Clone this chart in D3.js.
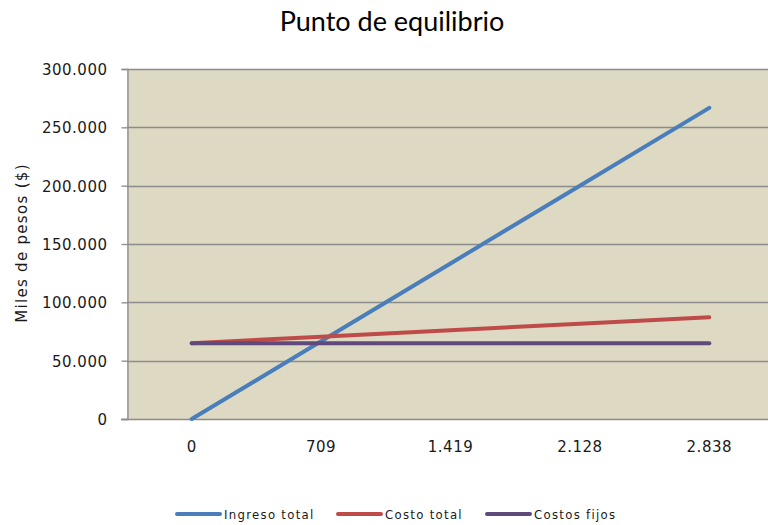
<!DOCTYPE html>
<html>
<head>
<meta charset="utf-8">
<script src="https://cdn.jsdelivr.net/npm/d3@7"></script>
<style>
  html, body { margin: 0; padding: 0; background: #fff; }
  svg { display: block; }
  .tick-label { font-family: "DejaVu Sans", sans-serif; font-size: 15px; fill: #1a1a1a; letter-spacing: 0.5px; }
  .axis-title { font-family: "DejaVu Sans", sans-serif; font-size: 15px; fill: #1a1a1a; letter-spacing: 1.3px; }
</style>
</head>
<body>
<svg id="chart" width="768" height="525"></svg>
<script>
// Unidades vendidas (categorías del eje X)
const categories = ["0", "709", "1.419", "2.128", "2.838"];
// Valores en pesos para cada serie
const ingresoTotal = [0, 66600, 133300, 200000, 266700];
const costoTotal = [65000, 70500, 76100, 81600, 87200];
const costosFijos = [65000, 65000, 65000, 65000, 65000];
const yTicks = [0, 50000, 100000, 150000, 200000, 250000, 300000];
const seriesNames = ["Ingreso total", "Costo total", "Costos fijos"];
const seriesColors = ["#4a7ebb", "#be4b48", "#604a7b"];

const series = [ingresoTotal, costoTotal, costosFijos].map((values, i) => ({
  name: seriesNames[i], color: seriesColors[i], values
}));

const svg = d3.select("#chart");
const margin = { left: 127, top: 69, right: -6, bottom: 106 };
const W = 768, H = 525;
const plotW = W - margin.left - margin.right;
const plotH = H - margin.top - margin.bottom;

const x = d3.scaleBand().domain(categories).range([margin.left, margin.left + plotW]);
const y = d3.scaleLinear().domain([0, 300000]).range([margin.top + plotH, margin.top]);

const fmt = v => v === 0 ? "0" : d3.format(",")(v).replace(/,/g, ".");

// Fondo del área de trazado
svg.append("rect")
  .attr("x", margin.left).attr("y", margin.top)
  .attr("width", plotW).attr("height", plotH)
  .attr("fill", "#ddd9c3");

// Líneas de cuadrícula horizontales
svg.append("g").selectAll("line").data(yTicks.filter(d => d > 0)).join("line")
  .attr("x1", margin.left).attr("x2", margin.left + plotW)
  .attr("y1", d => Math.round(y(d)) + 0.5).attr("y2", d => Math.round(y(d)) + 0.5)
  .attr("stroke", "#8c8c8c").attr("stroke-width", 1.3);

// Eje Y
const yAxis = svg.append("g")
  .attr("transform", `translate(${margin.left + 0.5},0)`)
  .call(d3.axisLeft(y).tickValues(yTicks).tickFormat(fmt).tickSize(6).tickPadding(14));
yAxis.select(".domain").attr("stroke", "#8c8c8c").attr("stroke-width", 1.3);
yAxis.selectAll(".tick line").attr("stroke", "#8c8c8c").attr("stroke-width", 1.3);
yAxis.selectAll(".tick text").attr("class", "tick-label").attr("dy", "0.36em");

// Eje X
const xAxis = svg.append("g")
  .attr("transform", `translate(0,${Math.round(margin.top + plotH) + 0.5})`)
  .call(d3.axisBottom(x).tickSize(0).tickPadding(22).tickSizeOuter(0));
xAxis.select(".domain").attr("stroke", "#8c8c8c").attr("stroke-width", 1.3)
  .attr("d", `M${margin.left - 6},0H${margin.left + plotW}`);
xAxis.selectAll(".tick text").attr("class", "tick-label");

// Series
const line = d3.line()
  .x((d, i) => x(categories[i]) + x.bandwidth() / 2)
  .y(d => y(d));

svg.append("g").selectAll("path").data(series).join("path")
  .attr("d", d => line(d.values))
  .attr("fill", "none")
  .attr("stroke", d => d.color)
  .attr("stroke-width", 4)
  .attr("stroke-linecap", "round");

// Título
svg.append("text")
  .attr("x", 392).attr("y", 31)
  .attr("text-anchor", "middle")
  .attr("font-family", "Lato, 'Open Sans', sans-serif")
  .attr("font-size", 27)
  .attr("fill", "#000")
  .text("Punto de equilibrio");

// Título del eje Y
svg.append("text")
  .attr("transform", `translate(27,${margin.top + plotH / 2 - 1}) rotate(-90)`)
  .attr("text-anchor", "middle")
  .attr("class", "axis-title")
  .text("Miles de pesos ($)");

// Leyenda
const legendX = [177, 338, 487];
const legend = svg.append("g").selectAll("g").data(series).join("g")
  .attr("transform", (d, i) => `translate(${legendX[i]},514)`);
legend.append("line")
  .attr("x1", 0).attr("x2", 43).attr("y1", 0).attr("y2", 0)
  .attr("stroke", d => d.color).attr("stroke-width", 4).attr("stroke-linecap", "round");
legend.append("text")
  .attr("x", 47).attr("dy", "0.35em")
  .attr("font-family", "'DejaVu Sans Condensed', 'DejaVu Sans', sans-serif")
  .attr("font-size", 13)
  .attr("letter-spacing", "1.3px")
  .attr("fill", "#1a1a1a")
  .text(d => d.name);
</script>
</body>
</html>
